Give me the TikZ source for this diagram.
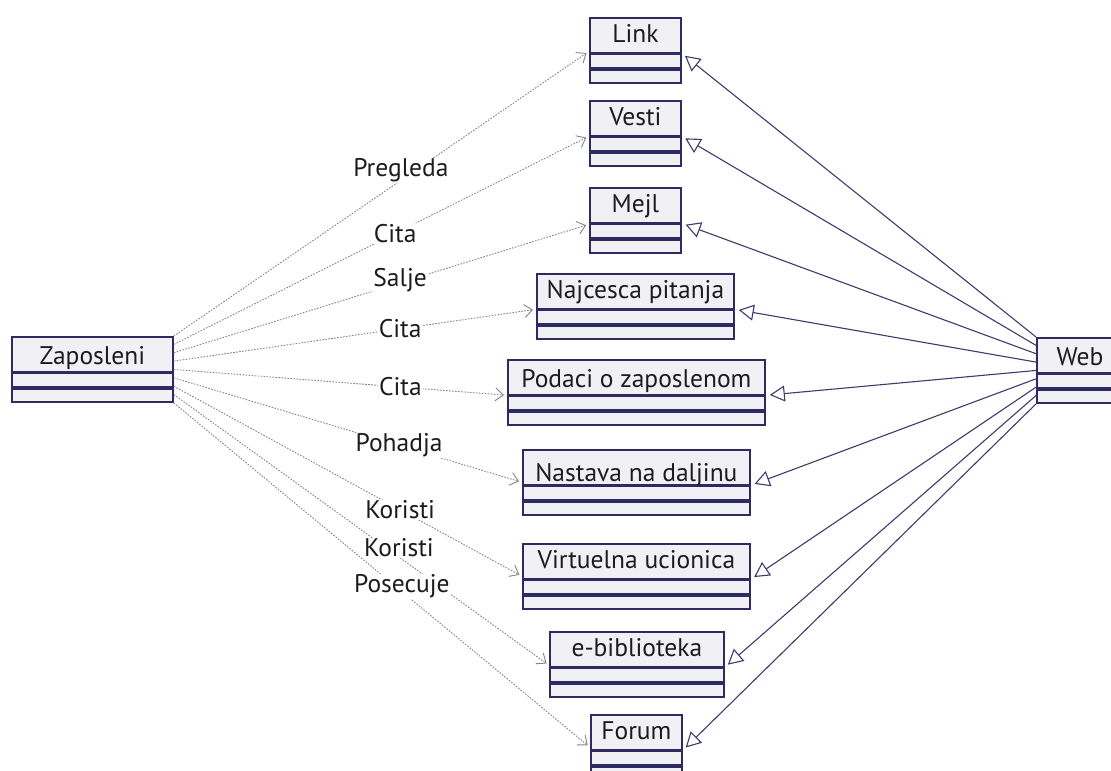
\documentclass[tikz,border=0pt]{standalone}
\usepackage{fontspec}
\setmainfont{PT Sans}
\usetikzlibrary{arrows.meta,calc}

\definecolor{classline}{HTML}{2E2B62}
\definecolor{classfill}{HTML}{F1F1F5}
\definecolor{assoc}{HTML}{3C3A6E}
\definecolor{deplink}{HTML}{858585}
\definecolor{ink}{HTML}{1E1B1C}

\tikzset{
  uml text/.style={font=\fontsize{25.5}{25.5}\selectfont, text=ink},
  classname/.style={uml text, draw=classline, fill=classfill, line width=1.8pt,
    minimum height=34.5pt, inner sep=0pt, anchor=north west,
    text height=18pt, text depth=2.5pt},
  compartment/.style={draw=classline, fill=classfill, line width=1.8pt,
    inner sep=0pt, anchor=north west},
  uses/.style={draw=deplink, line width=0.9pt, dash pattern=on 1.6pt off 1.4pt,
    -{Straight Barb[length=8pt,width=13pt,line width=0.9pt]}, shorten >=3pt},
  generalizes/.style={draw=assoc, line width=1.1pt,
    -{Triangle[open,length=15pt,width=16pt,fill=white,line width=1.1pt]}, shorten >=4pt},
  rolelabel/.style={uml text, fill=white, inner sep=1pt}
}

% UML class: name compartment plus two empty compartments
% #1 extra options, #2 name, #3 left, #4 top, #5 width, #6 title
\newcommand\umlclass[6][]{%
  \node[classname, minimum width=#5pt, #1] (#2) at (#3,#4) {#6};
  \node[compartment, minimum width=#5pt, minimum height=14pt] (#2-attr) at (#2.south west) {};
  \node[compartment, minimum width=#5pt, minimum height=13pt] (#2-ops) at (#2-attr.south west) {};
}

\begin{document}
\begin{tikzpicture}[x=1pt, y=-1pt]
  \path[use as bounding box, clip] (0,0) rectangle (1111,771);

  % classes
  \umlclass[text height=23pt, text depth=1.5pt]{zaposleni}{11}{336}{161}{Zaposleni}
  \umlclass{link}{589}{17}{91}{Link}
  \umlclass{vesti}{589}{100}{91}{Vesti}
  \umlclass{mejl}{589}{187}{91}{Mejl}
  \umlclass{faq}{536}{273}{197}{Najcesca pitanja}
  \umlclass[text height=23pt, text depth=1.5pt]{podaci}{507}{359}{257}{Podaci o zaposlenom}
  \umlclass[text height=30pt, text depth=0.5pt]{nastava}{522}{449}{227}{Nastava na daljinu}
  \umlclass{virtuelna}{522}{543}{227}{Virtuelna ucionica}
  \umlclass{biblioteka}{549}{631}{174}{e-biblioteka}
  \umlclass{forum}{590}{714}{91}{Forum}
  \umlclass[text height=22pt, text depth=1.5pt]{web}{1036}{337}{86}{Web}

  % attachment points along the sides of Zaposleni and Web
  \foreach \i in {1,...,9} {
    \coordinate (zp\i) at ($(zaposleni.north east)!{(\i-1)/8}!(zaposleni-ops.south east)$);
    \coordinate (wb\i) at ($(web.north west)!{(\i-1)/8}!(web-ops.south west)$);
  }

  % generalizations towards Web
  \draw[generalizes] (wb1) -- (link.south east);
  \draw[generalizes] (wb2) -- (vesti.south east);
  \draw[generalizes] (wb3) -- (mejl.south east);
  \draw[generalizes] (wb4) -- (faq.south east);
  \draw[generalizes] (wb5) -- (podaci.south east);
  \draw[generalizes] (wb6) -- (nastava.south east);
  \draw[generalizes] (wb7) -- (virtuelna.south east);
  \draw[generalizes] (wb8) -- (biblioteka.south east);
  \draw[generalizes] (wb9) -- (forum.south east);

  % dependencies from Zaposleni
  \draw[uses] (zp1) -- node[rolelabel, pos=0.547, yshift=10pt] (lpregleda) {Pregleda} ([yshift=2pt]link.south west);
  \draw[uses] (zp2) -- node[rolelabel, pos=0.533] (lcita1) {Cita} (vesti.south west);
  \draw[uses] (zp3) -- node[rolelabel, pos=0.545, yshift=3pt] (lsalje) {Salje} ([yshift=-1pt]mejl.south west);
  \draw[uses] (zp4) -- node[rolelabel, pos=0.625] (lcita2) {Cita} (faq.south west);
  \draw[uses] (zp5) -- node[rolelabel, pos=0.68] (lcita3) {Cita} (podaci.south west);
  \draw[uses] (zp6) -- node[rolelabel, pos=0.647] (lpohadja) {Pohadja} ([yshift=3pt]nastava.south west);
  \draw[uses] (zp7) -- node[rolelabel, pos=0.65] (lkoristi1) {Koristi} ([yshift=3pt]virtuelna.south west);
  \draw[uses] (zp8) -- node[rolelabel, pos=0.60, yshift=9pt] (lkoristi2) {Koristi} ([yshift=2pt]biblioteka.south west);
  \draw[uses] (zp9) -- node[rolelabel, pos=0.548, yshift=5pt] (lposecuje) {Posecuje} ([yshift=3pt]forum.south west);
\end{tikzpicture}
\end{document}
